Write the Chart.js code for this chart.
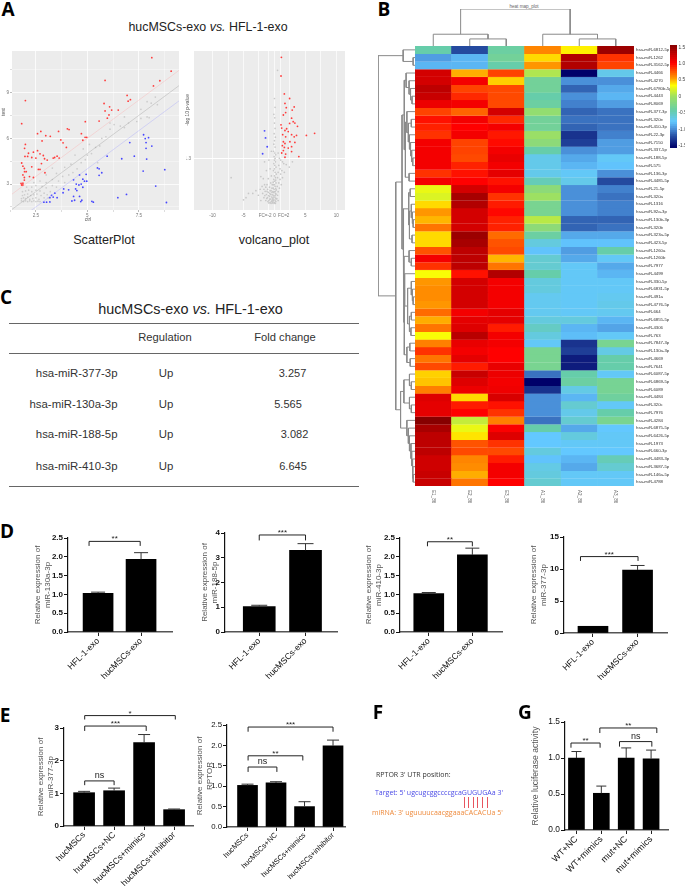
<!DOCTYPE html>
<html>
<head>
<meta charset="utf-8">
<script src="https://cdn.jsdelivr.net/npm/chart.js@4"></script>
<style>
html, body { margin: 0; background: #fff; }
#page { position: relative; width: 685px; height: 891px; overflow: hidden; font-family: "Liberation Sans", sans-serif; }
#page canvas { position: absolute; }
.t { position: absolute; white-space: nowrap; transform: translate(-50%, -50%); }
.letter { font-family: "Open Sans", sans-serif; font-weight: 700; font-size: 19px; color: #000; }
.rule { position: absolute; left: 9px; width: 350px; height: 1px; background: #666; }
.pair { position: absolute; top: 797px; width: 1px; height: 11px; background: #e8555f; }
</style>
</head>
<body>
<div id="page"></div>
<script>
// panel A scatter, [ctrl, test]
var scatterRed = [[8.13,11.28],[9.07,10.4],[8.52,9.77],[8.21,9.43],[5.86,9.79],[6.93,8.81],[7.09,8.53],[6.98,8.43],[1.99,8.47],[5.81,8.28],[6.08,8.06],[6.5,7.85],[6.18,7.85],[5.86,7.79],[6.05,7.53],[5.97,7.32],[5.57,7.13],[4.9,7.09],[1.81,6.96],[2.74,6.45],[2.58,6.3],[3.6,6.45],[4.03,6.62],[4.11,6.57],[4.71,6.3],[2.98,6.17],[3.2,6.13],[4.89,6.06],[4.97,6.06],[4.78,5.87],[2.8,5.83],[3.71,5.89],[3.82,5.7],[1.99,5.6],[3.98,5.4],[1.95,5.34],[2.38,5.09],[2.14,5.02],[2.58,5.19],[2.1,4.81],[2.7,4.98],[2.3,4.74],[2.86,4.87],[2.5,4.7],[1.97,4.81],[2.92,4.66],[3.05,4.57],[3.41,4.74],[3.53,4.83],[3.63,4.7],[3.34,4.7],[1.81,4.38],[2.77,4.34],[1.87,4.17],[2.3,4.13],[1.94,4.02],[2.62,3.96],[2.7,3.96],[2.03,3.81],[1.95,3.81],[2.94,3.74],[1.87,3.6],[2.19,3.49],[2.38,3.43],[1.94,3.43],[1.94,3.26],[1.78,3.04],[1.87,3.06],[1.81,2.94],[1.87,2.94]];
var scatterBlue = [[7.73,6.23],[7.81,5.98],[7.97,6.04],[7.06,5.72],[7.85,5.72],[8.13,5.49],[7.85,5.34],[7.28,4.83],[6.67,4.66],[7.88,4.64],[5.96,4.83],[7.71,3.85],[8.76,3.94],[5.49,4.06],[5.57,4.0],[5.7,3.74],[5.57,3.57],[4.94,3.64],[4.62,3.6],[4.33,3.28],[4.78,3.32],[4.97,3.19],[4.86,3.19],[4.7,3.0],[4.59,2.94],[4.46,3.0],[4.78,2.79],[8.32,2.87],[4.43,2.68],[4.49,2.57],[4.09,2.62],[3.85,2.68],[3.82,2.43],[3.42,2.4],[3.26,2.26],[3.53,2.11],[3.34,2.15],[3.18,2.11],[4.33,2.19],[4.62,2.19],[4.38,1.94],[4.73,1.94],[4.25,1.89],[4.68,1.85],[5.22,1.87],[5.29,1.81],[6.48,2.11],[6.9,2.32],[8.84,1.79],[3.18,1.83],[3.02,1.81],[2.89,1.81]];
var scatterGray = [[1.8,1.9],[1.9,1.85],[2,1.9],[2.1,1.85],[2.2,1.9],[2.3,1.85],[2.4,1.9],[2.5,1.85],[2.6,1.88],[2.7,1.85],[1.8,2.05],[1.9,2.1],[2,2.05],[2.1,2.15],[2.2,2],[2.35,2.05],[2.5,2.1],[2.65,2],[1.85,2.25],[1.95,2.3],[2.1,2.35],[2.25,2.25],[2.4,2.3],[2.55,2.35],[2.75,2.25],[1.85,2.5],[2,2.55],[2.15,2.6],[2.3,2.5],[2.5,2.6],[2.7,2.55],[2.9,2.4],[3.05,2.3],[3.2,2.5],[2.05,2.8],[2.3,2.8],[2.5,2.9],[2.8,2.85],[3,2.75],[3.3,2.9],[3.5,2.8],[2.4,3.1],[2.7,3.2],[3,3.1],[3.3,3.3],[3.6,3.2],[3.9,3.1],[3,3.6],[3.5,3.7],[3.8,3.5],[4.1,3.6],[4.3,3.75],[3.3,4.05],[3.9,4.1],[4.2,4.3],[4.5,4],[4.7,4.4],[4.9,4.6],[4.4,4.9],[5,4.9],[4.8,5.3],[5.2,5],[5.4,5.4],[5.1,5.6],[5.6,5.5],[5.7,6],[5.9,6.1],[6.1,6.6],[6.3,6.9],[6.1,7],[6.6,6.8],[6.8,6.7],[7,7],[7.4,7.1],[7.6,7.3],[7.9,7.4],[8,7.35],[7.6,7.9],[7.9,8.4],[8.1,8.3],[8.4,8.2],[8.3,8.7],[6.8,7.4],[5.5,4.4],[3.1,2.1],[2.9,2.1]];
var scatterLineX = [1.3, 9.5];
var scatterLineMid = [1.3, 9.5];
var scatterLineUp = [2.3, 10.5];
var scatterLineDown = [0.3, 8.5];

// panel A volcano, [log2 fc, -log10 p]
var volcanoRed = [[1.12,4.17],[1.06,3.64],[1.6,3.13],[2.45,3],[1.7,2.86],[3.19,2.76],[1.91,2.74],[2.87,2.67],[1.81,2.6],[1.44,2.53],[2.77,2.44],[3.03,2.34],[2.45,2.29],[3.3,2.3],[1.06,2.25],[3.72,2.21],[1.97,2.14],[1.7,2.09],[2.23,2.06],[6.49,2.01],[5.16,1.95],[3.56,1.95],[1.17,2.16],[1.33,1.97],[2.77,1.97],[3.19,1.91],[1.81,1.91],[1.44,1.77],[1.7,1.72],[2.5,1.77],[3.3,1.75],[1.28,1.66],[2.77,1.63],[1.6,1.61],[2.23,1.59],[1.44,1.52],[1.81,1.42],[2.77,1.49],[3.94,1.35],[1.7,1.33],[1.17,1.45]];
var volcanoBlue = [[-1.6,2.08],[-1.44,1.88],[-1.17,1.63],[-1.91,1.43]];
var volcanoGray = [[0.5,3.8],[0,3],[0.1,2.75],[-0.1,2.55],[0.05,2.45],[0,2.3],[0.1,2.15],[-0.05,2],[0.15,1.9],[0,1.8],[-0.1,1.7],[0.1,1.62],[-0.15,1.5],[0.05,1.45],[0.2,1.4],[-0.05,1.35],[0.1,1.3],[0,1.25],[0.15,1.2],[-0.1,1.15],[0.05,1.1],[0.25,1.05],[0,1],[-0.15,0.95],[0.1,0.9],[0.3,0.85],[0,0.8],[0.15,0.75],[-0.1,0.7],[0.05,0.65],[0.25,0.6],[0,0.55],[0.1,0.5],[-0.2,0.45],[0.3,0.4],[0,0.35],[0.15,0.3],[-0.1,0.25],[0.05,0.2],[0.3,0.15],[-0.2,0.1],[0,0.05],[0.15,0.02],[0.6,1.45],[0.8,1.3],[1,1.25],[1.3,1.2],[0.7,1.1],[1.5,1.15],[1.9,1.12],[2.4,1.05],[2.9,1.2],[0.9,1],[1.2,0.95],[0.6,0.9],[1,0.85],[1.6,0.9],[0.5,0.75],[0.9,0.7],[1.3,0.75],[0.7,0.6],[1.1,0.55],[0.45,0.5],[0.8,0.45],[0.6,0.35],[0.5,0.25],[0.4,0.15],[0.6,0.1],[-0.5,1.5],[-0.9,1.25],[-1.6,1.2],[-0.7,1],[-1.3,0.95],[-0.5,0.8],[-1,0.72],[-1.8,0.72],[-2.2,0.78],[-7,0.75],[-0.6,0.6],[-1.2,0.55],[-1.6,0.55],[-2,0.5],[-1.4,0.48],[-0.8,0.48],[-0.4,0.45],[-1.7,0.42],[-1.1,0.42],[-2.3,0.42],[-0.7,0.38],[-1.5,0.36],[-3,0.38],[-0.4,0.33],[-1,0.33],[-3.5,0.3],[-1.9,0.3],[-4.2,0.3],[-0.6,0.27],[-1.3,0.27],[-0.8,0.22],[-2.6,0.25],[-4.6,0.18],[-0.45,0.2],[-1.1,0.18],[-1.7,0.18],[-0.6,0.14],[-0.3,0.12],[-0.9,0.1],[-1.4,0.1],[-2.2,0.1],[-0.5,0.07],[-0.7,0.04],[-0.3,0.03],[-5,0.12],[-0.9,0.03],[-0.2,0.62],[-0.35,0.55],[0.2,0.68],[-0.25,0.35],[-0.05,0.42],[0.2,0.44],[-0.35,0.26],[-0.15,0.2],[0.1,0.24],[0.25,0.28],[-0.3,0.17],[-0.1,0.14],[0.1,0.11],[0.22,0.07],[-0.25,0.06],[-0.05,0.02],[-0.75,0.3],[-0.55,0.38],[-0.95,0.24],[-1.2,0.36],[-1.55,0.24],[-1.25,0.16],[-0.8,0.14],[-1.05,0.07],[-0.15,0.55],[0.12,0.36],[-0.12,0.33],[0.2,0.17],[-0.4,0.09],[-0.55,0.02]];

// panel B heat map
var colNames = ["E1_86", "E2_86", "E3_86", "A1_86", "A2_86", "A3_86"];
var rowNames = ["hsa-miR-6812-5p","hsa-miR-1262","hsa-miR-3162-5p","hsa-miR-4466","hsa-miR-4270","hsa-miR-6780b-5p","hsa-miR-4443","hsa-miR-8069","hsa-miR-377-3p","hsa-miR-320e","hsa-miR-410-3p","hsa-miR-22-3p","hsa-miR-7150","hsa-miR-337-5p","hsa-miR-188-5p","hsa-miR-575","hsa-miR-136-3p","hsa-miR-4485-5p","hsa-miR-21-5p","hsa-miR-320a","hsa-miR-1316","hsa-miR-92a-3p","hsa-miR-130b-3p","hsa-miR-320b","hsa-miR-323a-5p","hsa-miR-423-5p","hsa-miR-1260a","hsa-miR-1260b","hsa-miR-7977","hsa-miR-4499","hsa-miR-330-5p","hsa-miR-6831-5p","hsa-miR-491a","hsa-miR-4776-5p","hsa-miR-664","hsa-miR-6855-5p","hsa-miR-4306","hsa-miR-763","hsa-miR-7847-3p","hsa-miR-130a-3p","hsa-miR-4669","hsa-miR-7641","hsa-miR-6087-5p","hsa-miR-6869-5p","hsa-miR-6089","hsa-miR-4484","hsa-miR-320c","hsa-miR-7976","hsa-miR-4284","hsa-miR-6875-5p","hsa-miR-6426-5p","hsa-miR-1973","hsa-miR-660-3p","hsa-miR-4483-3p","hsa-miR-3687-5p","hsa-miR-146a-5p","hsa-miR-4788"];
var heatRows = [
[-.45,-1.25,-.4,.6,.35,1.45],[-.95,-.85,-.35,.4,1.35,.85],[-.85,-.85,-.45,.55,1.35,.8],[1.2,.5,.8,.05,-1.6,-.7],
[1.2,1.05,.42,-.35,-1,-1],[1.3,.8,.78,-.35,-1.15,-.9],[1.25,.88,.78,-.45,-1,-.85],[1.08,1.05,.78,-.4,-1.05,-.95],
[.8,.7,1.2,-.1,-1.15,-1.1],[.95,1.05,.88,-.35,-1.1,-1.1],[.9,1,1.05,-.35,-1.15,-1.1],[.85,1.05,.93,-.05,-1.35,-1.05],
[1.05,.8,.97,-.15,-1.3,-.95],[1.05,.8,1.05,-.45,-1,-.95],[1.05,.78,1.1,-.7,-.9,-.75],[1.05,.9,1.05,-.7,-.85,-.8],
[.85,.95,1.12,-.7,-.75,-1],[1.05,1,.95,-.5,-.7,-1.25],[.25,1.2,1.05,-.15,-1,-1.05],[.2,1.4,.85,-.02,-1,-1.1],
[.4,1.35,.92,-.3,-1,-1.05],[.55,1.2,.98,-.3,-1,-1.05],[.48,1.2,.9,.08,-1.15,-1.15],[.65,1.2,.9,-.15,-1.15,-1.1],
[.4,1.45,.68,-.4,-.9,-.9],[.4,1.4,.75,-.65,-.8,-.8],[.75,1.3,.78,-.8,-.95,-.45],[1.05,1.3,.48,-.6,-.9,-.75],
[.85,1.3,.65,-.6,-.75,-.9],[.3,.95,1.35,-.45,-.75,-.85],[.55,1.2,1.05,-.65,-.75,-.75],[.58,1.2,1.05,-.65,-.75,-.75],
[.58,1.2,1.05,-.72,-.75,-.72],[.55,1.2,1.05,-.72,-.75,-.7],[.68,1.05,1.12,-.72,-.75,-.72],[.5,1.12,1.12,-.65,-.65,-.85],
[.65,1.15,.92,-.55,-.85,-.92],[.3,1.32,1.05,-.65,-.82,-.75],[.62,1.1,1.05,-.75,-1.35,-.3],[.85,1.05,1,-.3,-1.3,-.68],
[.65,1.12,1,-.3,-1.45,-.45],[.78,.92,1.1,-.3,-1.45,-.45],[.42,1.25,1.08,-1.1,-.45,-.75],[.45,1.15,1.05,-1.6,-.4,-.32],
[.62,1.08,1.07,-1.35,-.68,-.32],[1.15,.4,1.18,-1,-.85,-.38],[1.12,.92,.95,-1,-.6,-.75],[1.12,1,.85,-1,-.7,-.45],
[1.55,.12,.62,-1.1,-.6,-.3],[1.4,.25,1.02,-.45,-.9,-.78],[1.3,.38,1.15,-.78,-.65,-.75],[1.3,.75,.85,-.78,-.75,-.75],
[1.3,.78,.78,-.65,-.78,-.78],[1.22,.6,.92,-.8,-.85,-.5],[1.22,.58,1.05,-.68,-.9,-.6],[1.25,.5,1.05,-.65,-.75,-.75],[1.25,.65,1,-.6,-.75,-.75]
];
// dendrograms: [height, left, right], a plain number is a leaf index
var treeTop = [11, [3.5, 0, [2.1, 1, 2]], [3.5, 3, [2.1, 4, 5]]];
var branchA = [2.4, 3, [1.6, 4, [1.2, 5, [0.8, 6, 7]]]];
var branchB = [2.2, 8, [1.8, [1, 9, 10], [1.5, 11, [1.2, 12, [0.9, 13, [0.6, 14, 15]]]]]];
var branchE = [1.7, [1.3, 18, 19], [1.5, [1, 20, [0.7, 21, [0.5, 22, 23]]], [0.8, 24, 25]]];
var branchF = [1.6, 26, [1, 27, 28]];
var branchG = [2.8, 29, [2, [1, 30, [0.7, 31, [0.5, 32, 33]]], [1.5, [1, 34, 35], [1.1, 36, 37]]]];
var branchH = [2.2, [1.4, 38, 39], [1.3, 40, 41]];
var branchLow = [3.9, [3, [1.5, 42, [1, 43, 44]], [1.5, 45, [1, 46, 47]]], [2.2, 48, [1.8, 49, [1.5, 50, [1.1, 51, [0.9, 52, [0.7, 53, [0.6, 54, [0.5, 55, 56]]]]]]]]];
var branchUp = [3.5, [2.9, branchA, [2.6, branchB, [1.6, 16, 17]]], [3.2, branchE, [3, branchF, [2.9, branchG, branchH]]]];
var treeLeft = [10, [3.2, 0, [0.5, 1, 2]], [5.2, branchUp, branchLow]];

// panels D, E, G
var exoCats = ["HFL-1-exo", "hucMSCs-exo"];
var eCats = ["hucMSCs", "hucMSCs+NC", "hucMSCs+mimics", "hucMSCs+inhibitor"];
var gCats = ["WT+NC", "WT+mimics", "mut+NC", "mut+mimics"];
var d1Values = [1.03, 1.93], d1Errors = [0.03, 0.18];
var d2Values = [1.03, 3.3], d2Errors = [0.05, 0.27];
var d3Values = [1.02, 2.05], d3Errors = [0.03, 0.18];
var d4Values = [1.05, 9.85], d4Errors = [0, 0.7];
var e1Values = [1.02, 1.08, 2.55, 0.5], e1Errors = [0.04, 0.08, 0.25, 0.02];
var e2Values = [1.02, 1.08, 0.5, 1.99], e2Errors = [0.03, 0.03, 0.12, 0.14];
var gValues = [1, 0.51, 1, 0.99], gErrors = [0.09, 0.1, 0.14, 0.12];
// brackets: from bar, to bar, height, drop, label
var d1Brackets = [[0.79, 1.98, 2.41, 0.12, "**"]];
var d2Brackets = [[1, 2, 3.92, 0.22, "***"]];
var d3Brackets = [[0.97, 2, 2.4, 0.12, "**"]];
var d4Brackets = [[0.72, 2.01, 11.94, 0.68, "***"]];
var e1Brackets = [[1.02, 2, 1.38, 0.13, "ns"], [1.02, 3.07, 3.06, 0.15, "***"], [1.02, 4.04, 3.38, 0.12, "*"]];
var e2Brackets = [[1.02, 2.03, 1.47, 0.12, "ns"], [1.02, 2.94, 1.745, 0.115, "**"], [1.02, 4, 2.45, 0.115, "***"]];
var gBrackets = [[0.78, 1.95, 1.208, 0.065, "**"], [2.73, 4.03, 1.228, 0.07, "ns"], [1.94, 4.23, 1.417, 0.07, "**"]];

// panel C
var tableRows = [["hsa-miR-377-3p", "Up", "3.257"], ["hsa-miR-130a-3p", "Up", "5.565"], ["hsa-miR-188-5p", "Up", "3.082"], ["hsa-miR-410-3p", "Up", "6.645"]];

Chart.defaults.animation = false;
Chart.defaults.font.family = '"Liberation Sans", Arial, sans-serif';
Chart.defaults.plugins.legend.display = false;
Chart.defaults.plugins.tooltip.enabled = false;

var page = document.getElementById("page");

function addText(text, x, y, style, cls) {
    var el = document.createElement("div");
    el.className = cls || "t";
    el.textContent = text;
    el.style.left = x + "px";
    el.style.top = y + "px";
    el.style.cssText += ";" + (style || "");
    page.appendChild(el);
    return el;
}

// canvas is placed so that the plot area lands on box = [left, top, right, bottom]
function makeCanvas(box, m) {
    var c = document.createElement("canvas");
    c.width = box[2] - box[0] + m.l + m.r;
    c.height = box[3] - box[1] + m.t + m.b;
    c.style.left = (box[0] - m.l) + "px";
    c.style.top = (box[1] - m.t) + "px";
    c.style.width = c.width + "px";
    c.style.height = c.height + "px";
    page.appendChild(c);
    return c;
}

function fixY(w) {
    return function (s) { s.width = w; s.paddingTop = 0; s.paddingBottom = 0; s.paddingLeft = 0; s.paddingRight = 0; };
}
function fixX(h) {
    return function (s) { s.height = h; s.paddingTop = 0; s.paddingBottom = 0; s.paddingLeft = 0; s.paddingRight = 0; };
}

var baseOptions = function (m) {
    return { responsive: false, devicePixelRatio: 1, layout: { padding: { top: m.t, right: m.r, left: 0, bottom: 0 } } };
};

var panelBack = {
    id: "panelBack",
    beforeDraw: function (chart) {
        var a = chart.chartArea;
        chart.ctx.fillStyle = "#ececec";
        chart.ctx.fillRect(a.left, a.top, a.right - a.left, a.bottom - a.top);
    }
};

function toXY(list) {
    return list.map(function (p) { return { x: p[0], y: p[1] }; });
}
function dots(list, color, r) {
    return { data: toXY(list), backgroundColor: color, borderWidth: 0, pointRadius: r };
}
function guide(ys, color) {
    return { data: [{ x: scatterLineX[0], y: ys[0] }, { x: scatterLineX[1], y: ys[1] }], showLine: true, borderColor: color, borderWidth: 0.7, pointRadius: 0 };
}

function ggAxis(extra, fit) {
    var tiny = { size: 4.6 };
    return Object.assign({
        type: "linear",
        border: { display: false },
        afterFit: fit
    }, extra, {
        ticks: Object.assign({ font: tiny, color: "#777", padding: 1, autoSkip: false, maxRotation: 0, minRotation: 0 }, extra.ticks)
    });
}

function drawScatter() {
    var m = { l: 12, t: 0, r: 2, b: 14 };
    var xMajor = [2.5, 5, 7.5], xMinor = [1.25, 3.75, 6.25, 8.75];
    var yMajor = [3, 6, 9], yMinor = [1.5, 4.5, 7.5, 10.5];
    var opts = baseOptions(m);
    opts.scales = {
        x: ggAxis({
            min: 1.34, max: 9.45,
            afterBuildTicks: function (s) { s.ticks = xMajor.concat(xMinor).map(function (v) { return { value: v }; }); },
            ticks: { callback: function (v) { return xMajor.indexOf(v) >= 0 ? String(v) : ""; } },
            grid: { color: "#fff", lineWidth: function (c) { return xMajor.indexOf(c.tick.value) >= 0 ? 0.8 : 0.4; }, tickLength: 2, tickColor: "#aaa" }
        }, fixX(m.b)),
        y: ggAxis({
            min: 1.3, max: 11.72,
            afterBuildTicks: function (s) { s.ticks = yMajor.concat(yMinor).map(function (v) { return { value: v }; }); },
            ticks: { callback: function (v) { return yMajor.indexOf(v) >= 0 ? String(v) : ""; } },
            grid: { color: "#fff", lineWidth: function (c) { return yMajor.indexOf(c.tick.value) >= 0 ? 0.8 : 0.4; }, tickLength: 2, tickColor: "#aaa" }
        }, fixY(m.l))
    };
    new Chart(makeCanvas([12, 47, 181, 210], m), {
        type: "scatter",
        data: { datasets: [
            guide(scatterLineMid, "rgba(150,150,150,.5)"),
            guide(scatterLineUp, "rgba(255,150,150,.4)"),
            guide(scatterLineDown, "rgba(150,150,255,.45)"),
            dots(scatterGray, "#cccccc", 0.85),
            dots(scatterRed, "#ff3c3c", 0.9),
            dots(scatterBlue, "#4646ff", 0.9)
        ] },
        options: opts,
        plugins: [panelBack]
    });
}

function drawVolcano() {
    var m = { l: 8, t: 0, r: 2, b: 14 };
    // FC labels sit just outside their grid lines at +-1
    var labels = { "-10": "-10", "-5": "-5", "-1.5": "FC=-2", "0": "0", "1.5": "FC=2", "5": "5", "10": "10" };
    var xVals = [-10, -7.5, -5, -2.5, -1.5, -1, 0, 1, 1.5, 2.5, 5, 7.5, 10];
    var opts = baseOptions(m);
    opts.scales = {
        x: ggAxis({
            min: -13, max: 11.4,
            afterBuildTicks: function (s) { s.ticks = xVals.map(function (v) { return { value: v }; }); },
            ticks: { callback: function (v) { return labels[String(v)] || ""; } },
            grid: {
                color: function (c) { return Math.abs(c.tick.value) === 1.5 ? "rgba(0,0,0,0)" : "#fff"; },
                lineWidth: 0.7, tickLength: 2, tickColor: "rgba(0,0,0,0)"
            }
        }, fixX(m.b)),
        y: ggAxis({
            min: -0.17, max: 4.35,
            afterBuildTicks: function (s) { s.ticks = [{ value: 1.3 }]; },
            ticks: { callback: function (v) { return String(v); } },
            grid: { color: "#fff", lineWidth: 1, tickLength: 2, tickColor: "rgba(0,0,0,0)" }
        }, fixY(m.l))
    };
    new Chart(makeCanvas([194, 47, 347, 210], m), {
        type: "scatter",
        data: { datasets: [
            dots(volcanoGray, "#c8c8c8", 0.85),
            dots(volcanoRed, "#ff3c3c", 0.9),
            dots(volcanoBlue, "#4a4aff", 0.95)
        ] },
        options: opts,
        plugins: [panelBack]
    });
}

// colour ramp of the heat map key
var rampZ = [-1.57, -1.2, -1, -0.78, -0.45, 0, 0.32, 0.55, 1, 1.57];
var rampC = [[0, 0, 105], [42, 85, 168], [74, 144, 217], [99, 200, 255], [102, 205, 170], [160, 225, 95], [255, 255, 0], [255, 150, 0], [255, 0, 0], [130, 0, 0]];
function zColor(z) {
    var i = 0;
    while (i < rampZ.length - 2 && z > rampZ[i + 1]) i++;
    var f = Math.min(1, Math.max(0, (z - rampZ[i]) / (rampZ[i + 1] - rampZ[i])));
    var c = rampC[i].map(function (v, k) { return Math.round(v + (rampC[i + 1][k] - v) * f); });
    return "rgb(" + c.join(",") + ")";
}

function drawHeat() {
    var m = { l: 0, t: 0, r: 46, b: 22 };
    var colLabels = {
        id: "colLabels",
        afterDraw: function (chart) {
            var ctx = chart.ctx, x = chart.scales.x, b = chart.chartArea.bottom;
            ctx.save();
            ctx.font = "4.6px 'Liberation Sans'";
            ctx.fillStyle = "#555";
            ctx.textBaseline = "middle";
            colNames.forEach(function (n, i) {
                ctx.save();
                ctx.translate(x.getPixelForValue(i), b + 4);
                ctx.rotate(Math.PI / 2);
                ctx.fillText(n, 0, 0);
                ctx.restore();
            });
            ctx.restore();
        }
    };
    var opts = baseOptions(m);
    opts.layout.padding.right = 0; // the right axis takes that room itself
    opts.scales = {
        x: { stacked: true, grid: { display: false }, border: { display: false }, ticks: { display: false }, afterFit: fixX(m.b) },
        y: {
            stacked: true, type: "linear", position: "right", reverse: true, min: 0, max: rowNames.length,
            grid: { display: false, drawTicks: false }, border: { display: false },
            afterBuildTicks: function (s) { s.ticks = rowNames.map(function (n, i) { return { value: i + 0.5 }; }); },
            ticks: { autoSkip: false, padding: 2, font: { size: 4.3 }, color: "#333", callback: function (v) { return rowNames[Math.floor(v)]; } },
            afterFit: fixY(m.r)
        }
    };
    new Chart(makeCanvas([415, 46, 634, 486], m), {
        type: "bar",
        data: {
            labels: colNames,
            datasets: heatRows.map(function (row) {
                return {
                    data: row.map(function () { return 1; }),
                    backgroundColor: row.map(zColor),
                    borderColor: row.map(zColor),
                    borderWidth: 0.4,
                    barPercentage: 1,
                    categoryPercentage: 1
                };
            })
        },
        options: opts,
        plugins: [colLabels]
    });
}

function drawKey() {
    var m = { l: 0, t: 0, r: 8, b: 0 };
    var steps = [];
    for (var z = -1.57; z < 1.57; z += 0.06) steps.push(z);
    var opts = baseOptions(m);
    opts.layout.padding.right = 0;
    opts.scales = {
        x: { grid: { display: false }, border: { display: false }, ticks: { display: false }, afterFit: fixX(0) },
        y: {
            type: "linear", position: "right", min: -1.57, max: 1.57,
            grid: { display: false, drawTicks: false }, border: { display: false },
            ticks: { stepSize: 0.5, autoSkip: false, padding: 1.5, font: { size: 4.8 }, color: "#444" },
            afterBuildTicks: function (s) { s.ticks = [-1.5, -1, -0.5, 0, 0.5, 1, 1.5].map(function (v) { return { value: v }; }); },
            afterFit: fixY(m.r)
        }
    };
    new Chart(makeCanvas([670, 45, 677, 148], m), {
        type: "bar",
        data: {
            labels: ["key"],
            datasets: steps.map(function (z) {
                return { data: [[z, z + 0.065]], backgroundColor: zColor(z + 0.03), grouped: false, barPercentage: 1, categoryPercentage: 1 };
            })
        },
        options: opts
    });
}

// each merge becomes one U shaped line
function treeLines(node, out, horizontal) {
    if (typeof node === "number") return { pos: node + 0.5, h: 0 };
    var a = treeLines(node[1], out, horizontal);
    var b = treeLines(node[2], out, horizontal);
    var pts = [[a.pos, a.h], [a.pos, node[0]], [b.pos, node[0]], [b.pos, b.h]];
    out.push({
        data: pts.map(function (p) { return horizontal ? { x: p[1], y: p[0] } : { x: p[0], y: p[1] }; }),
        showLine: true, borderColor: "#8a8a8a", borderWidth: 1, pointRadius: 0, clip: false, tension: 0
    });
    return { pos: (a.pos + b.pos) / 2, h: node[0] };
}

function drawTree(box, tree, xs, ys, horizontal) {
    var m = { l: 0, t: 0, r: 0, b: 0 };
    var sets = [];
    treeLines(tree, sets, horizontal);
    var opts = baseOptions(m);
    opts.scales = {
        x: Object.assign({ type: "linear", display: false }, xs),
        y: Object.assign({ type: "linear", display: false }, ys)
    };
    new Chart(makeCanvas(box, m), { type: "scatter", data: { datasets: sets }, options: opts });
}

var barMarks = {
    id: "barMarks",
    afterDatasetsDraw: function (chart, args, o) {
        var ctx = chart.ctx, xs = chart.scales.x, ys = chart.scales.y;
        ctx.save();
        ctx.lineWidth = 1;
        o.values.forEach(function (v, i) {
            if (!o.errors[i]) return;
            var x = xs.getPixelForValue(i + 1);
            var y0 = ys.getPixelForValue(v), y1 = ys.getPixelForValue(v + o.errors[i]);
            ctx.strokeStyle = "#333";
            ctx.beginPath();
            ctx.moveTo(x, y0); ctx.lineTo(x, y1);
            ctx.moveTo(x - o.cap, y1); ctx.lineTo(x + o.cap, y1);
            ctx.stroke();
        });
        o.brackets.forEach(function (b) {
            var x1 = xs.getPixelForValue(b[0]), x2 = xs.getPixelForValue(b[1]);
            var y = ys.getPixelForValue(b[2]), yd = ys.getPixelForValue(b[2] - b[3]);
            ctx.strokeStyle = "#222";
            ctx.beginPath();
            ctx.moveTo(x1, yd); ctx.lineTo(x1, y); ctx.lineTo(x2, y); ctx.lineTo(x2, yd);
            ctx.stroke();
            ctx.fillStyle = "#222";
            ctx.textAlign = "center";
            ctx.textBaseline = "alphabetic";
            var ns = b[4] === "ns";
            ctx.font = (ns ? o.nsSize : 8) + "px 'Liberation Sans'";
            ctx.fillText(b[4], (x1 + x2) / 2, y - (ns ? 3 : 0));
        });
        ctx.restore();
    }
};

function drawBars(cfg) {
    var m = { l: cfg.left, t: 24, r: 4, b: cfg.bottom || 64 };
    var opts = baseOptions(m);
    opts.plugins = { barMarks: { values: cfg.values, errors: cfg.errors, brackets: cfg.brackets, cap: cfg.cap, nsSize: cfg.nsSize || 9 } };
    opts.scales = {
        x: {
            type: "linear", min: cfg.xMin, max: cfg.xMax, offset: false,
            border: { color: "#555", width: 1.6 },
            grid: { offset: false, drawOnChartArea: false, color: "#222", lineWidth: 1, tickLength: 4 },
            afterBuildTicks: function (s) { s.ticks = cfg.cats.map(function (c, i) { return { value: i + 1 }; }); },
            ticks: {
                autoSkip: false, maxRotation: 45, minRotation: 45, padding: 0,
                font: { size: cfg.xFont || 8.6 }, color: "#111",
                callback: function (v) { return cfg.cats[v - 1]; }
            },
            afterFit: fixX(m.b)
        },
        y: {
            type: "linear", min: 0, max: cfg.yMax,
            border: { color: "#111", width: 1.2 },
            grid: { drawOnChartArea: false, color: "#111", lineWidth: 1, tickLength: 4 },
            ticks: { stepSize: cfg.step, padding: 1, font: { size: cfg.yFont || 8, weight: cfg.yWeight || "bold" }, color: "#111", callback: function (v) { return cfg.fmt ? v.toFixed(1) : String(v); } },
            title: { display: true, text: cfg.title, font: { size: cfg.titleSize || 8 }, color: "#555", padding: 0 },
            afterFit: fixY(m.l)
        }
    };
    new Chart(makeCanvas(cfg.box, m), {
        type: "bar",
        data: { datasets: [{
            data: cfg.values.map(function (v, i) { return { x: i + 1, y: v }; }),
            backgroundColor: "#000",
            barThickness: cfg.barW
        }] },
        options: opts,
        plugins: [barMarks]
    });
}

drawScatter();
drawVolcano();
drawHeat();
drawKey();
drawTree([415, 9, 634, 46], treeTop, { min: 0, max: 6 }, { min: 0, max: 11 }, false);
drawTree([378, 46, 415, 486], treeLeft, { min: 0, max: 10, reverse: true }, { min: 0, max: rowNames.length, reverse: true }, true);

drawBars({ box: [68, 538, 172, 632], left: 35, xMin: 0.3, xMax: 2.72, yMax: 2.5, step: 0.5, fmt: true, cats: exoCats, values: d1Values, errors: d1Errors, brackets: d1Brackets, barW: 30, cap: 7, title: ["Relative expression of", "miR-130a-3p"] });
drawBars({ box: [225, 533, 337, 632], left: 25, xMin: 0.26, xMax: 2.68, yMax: 4, step: 1, cats: exoCats, values: d2Values, errors: d2Errors, brackets: d2Brackets, barW: 32, cap: 8, title: ["Relative expression of", "miR-188-5p"] });
drawBars({ box: [400, 538, 502, 632], left: 36, xMin: 0.34, xMax: 2.68, yMax: 2.5, step: 0.5, fmt: true, cats: exoCats, values: d3Values, errors: d3Errors, brackets: d3Brackets, barW: 30, cap: 7, title: ["Relative expression of", "miR-410-3p"] });
drawBars({ box: [564, 537, 667, 633], left: 35, xMin: 0.35, xMax: 2.66, yMax: 15, step: 5, cats: exoCats, values: d4Values, errors: d4Errors, brackets: d4Brackets, barW: 30, cap: 7, title: ["Relative expression of", "miR-377-3p"] });

drawBars({ box: [64, 728, 193, 826], left: 28, xMin: 0.33, xMax: 4.63, yMax: 3, step: 1, cats: eCats, values: e1Values, errors: e1Errors, brackets: e1Brackets, barW: 21, cap: 6, title: ["Relative expression of", "miR-377-3p"] });
drawBars({ box: [227, 725, 345, 827], left: 32, xMin: 0.28, xMax: 4.42, yMax: 2.5, step: 0.5, fmt: true, cats: eCats, values: e2Values, errors: e2Errors, brackets: e2Brackets, barW: 20, cap: 6, xFont: 7.4, yFont: 7.8, yWeight: "normal", title: ["Relative expression of", "RPTOR"] });
drawBars({ box: [565, 722, 668, 830], left: 35, xMin: 0.54, xMax: 4.68, yMax: 1.5, step: 0.5, fmt: true, cats: gCats, values: gValues, errors: gErrors, brackets: gBrackets, barW: 16, cap: 5, bottom: 60, xFont: 9, yFont: 8.4, yWeight: "normal", titleSize: 8.6, title: "Relative luciferase activity" });

// panel letters
addText("A", 8, 9, "", "t letter");
addText("B", 384, 9, "", "t letter");
addText("C", 6, 297, "", "t letter");
addText("D", 7, 531, "", "t letter");
addText("E", 5, 715, "", "t letter");
addText("F", 378, 712, "", "t letter");
addText("G", 525, 712, "", "t letter");

// panel A text
addText("", 208, 26.5, "font-size:12.4px;color:#222").innerHTML = "hucMSCs-exo <i>vs.</i> HFL-1-exo";
addText("ScatterPlot", 104, 240, "font-size:12.6px;color:#222");
addText("volcano_plot", 274, 240, "font-size:12.6px;color:#222");
addText("ctrl", 88, 219, "font-size:4.8px;color:#555");
addText("test", 3, 112, "font-size:4.8px;color:#555;transform:translate(-50%,-50%) rotate(-90deg)");
addText("-log 10 p-value", 187, 110, "font-size:4.8px;color:#555;transform:translate(-50%,-50%) rotate(-90deg)");
addText("heat map_plot", 524, 6, "font-size:4.6px;color:#666");

// panel C table
addText("", 190.5, 308.5, "font-size:14.4px;color:#222").innerHTML = "hucMSCs-exo <i>vs.</i> HFL-1-exo";
[322.5, 352.5, 486].forEach(function (y) {
    var r = document.createElement("div");
    r.className = "rule";
    r.style.top = y + "px";
    page.appendChild(r);
});
addText("Regulation", 165, 336.5, "font-size:11.2px;color:#333");
addText("Fold change", 285, 336.5, "font-size:11.2px;color:#333");
var tableY = [372.7, 404, 434, 465.7];
var tableValueX = [292.5, 288, 294.5, 293];
tableRows.forEach(function (row, i) {
    addText(row[0], 117.5, tableY[i], "font-size:11.4px;color:#333;transform:translate(-100%,-50%)");
    addText(row[1], 166, tableY[i], "font-size:11.4px;color:#333");
    addText(row[2], tableValueX[i], tableY[i], "font-size:11px;color:#333");
});

// panel F text
addText("RPTOR 3' UTR position:", 376, 774, "font-family:'Open Sans';font-size:7px;color:#333;transform:translate(0,-50%)");
addText("Target: 5' ugcugcggccccgcaGUGUGAa 3'", 375, 791.5, "font-family:'Open Sans';font-size:7px;color:#4a4ae6;transform:translate(0,-50%)");
addText("miRNA: 3' uguuuucaacggaaaCACACUa 5'", 372, 812, "font-family:'Open Sans';font-size:7px;color:#ee8a3c;transform:translate(0,-50%)");
[463.7, 468.3, 472.7, 477.3, 482.3, 487].forEach(function (x) {
    var p = document.createElement("div");
    p.className = "pair";
    p.style.left = x + "px";
    page.appendChild(p);
});
</script>
</body>
</html>
